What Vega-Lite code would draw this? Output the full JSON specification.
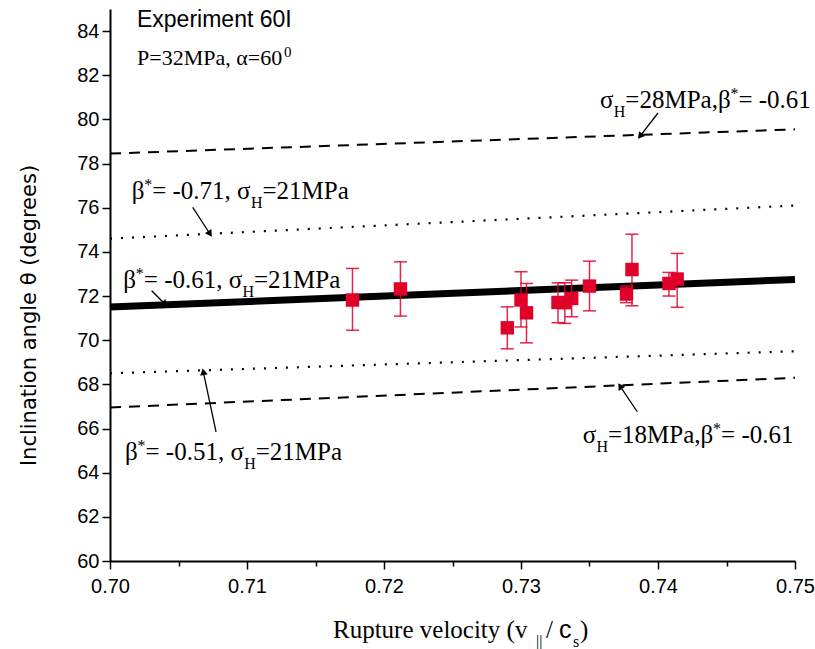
{
  "$schema": "https://vega.github.io/schema/vega-lite/v6.json",
  "width": 685,
  "height": 552,
  "autosize": {"type": "none"},
  "padding": {"left": 110, "top": 9, "right": 20, "bottom": 88},
  "background": "white",
  "config": {"view": {"stroke": null}},
  "datasets": {
    "lines": [
      {"label": "s28", "x": 0.70, "y": 78.45}, {"label": "s28", "x": 0.75, "y": 79.55},
      {"label": "b71", "x": 0.70, "y": 74.6}, {"label": "b71", "x": 0.75, "y": 76.1},
      {"label": "b61", "x": 0.70, "y": 71.5}, {"label": "b61", "x": 0.75, "y": 72.75},
      {"label": "b51", "x": 0.70, "y": 68.5}, {"label": "b51", "x": 0.75, "y": 69.5},
      {"label": "s18", "x": 0.70, "y": 66.95}, {"label": "s18", "x": 0.75, "y": 68.3}
    ],
    "pts": [
      {"x": 0.7177, "y": 71.82, "lo": 70.45, "hi": 73.25},
      {"x": 0.7212, "y": 72.32, "lo": 71.09, "hi": 73.55},
      {"x": 0.7290, "y": 70.56, "lo": 69.61, "hi": 71.51},
      {"x": 0.7300, "y": 71.82, "lo": 70.60, "hi": 73.10},
      {"x": 0.7304, "y": 71.24, "lo": 69.88, "hi": 72.57},
      {"x": 0.7327, "y": 71.71, "lo": 70.79, "hi": 72.60},
      {"x": 0.7332, "y": 71.70, "lo": 70.76, "hi": 72.60},
      {"x": 0.7337, "y": 71.89, "lo": 71.06, "hi": 72.72},
      {"x": 0.7350, "y": 72.45, "lo": 71.33, "hi": 73.58},
      {"x": 0.7377, "y": 72.09, "lo": 71.70, "hi": 72.45},
      {"x": 0.7381, "y": 73.20, "lo": 71.56, "hi": 74.80},
      {"x": 0.7408, "y": 72.57, "lo": 72.00, "hi": 73.07},
      {"x": 0.7414, "y": 72.77, "lo": 71.49, "hi": 73.93}
    ],
    "arrows": [
      {"id": 1, "x": 0.7400, "y": 80.29, "x2": 0.73869, "y2": 79.24},
      {"id": 2, "x": 0.70604, "y": 76.02, "x2": 0.70730, "y2": 74.81},
      {"id": 3, "x": 0.70304, "y": 72.24, "x2": 0.70401, "y2": 71.64},
      {"id": 4, "x": 0.70774, "y": 65.85, "x2": 0.70681, "y2": 68.57},
      {"id": 5, "x": 0.73849, "y": 66.76, "x2": 0.73723, "y2": 67.92}
    ],
    "texts": [
      {"kind": "lab", "x": 0.735766, "y": 80.51, "t": "σ"},
      {"kind": "sub", "x": 0.736766, "y": 80.10, "t": "H"},
      {"kind": "lab", "x": 0.737613, "y": 80.51, "t": "=28MPa,β"},
      {"kind": "sup", "x": 0.745285, "y": 80.93, "t": "*"},
      {"kind": "lab", "x": 0.745869, "y": 80.51, "t": "= -0.61"},

      {"kind": "lab", "x": 0.701584, "y": 76.39, "t": "β"},
      {"kind": "sup", "x": 0.702496, "y": 76.81, "t": "*"},
      {"kind": "lab", "x": 0.703080, "y": 76.39, "t": "= -0.71, σ"},
      {"kind": "sub", "x": 0.710285, "y": 75.98, "t": "H"},
      {"kind": "lab", "x": 0.711124, "y": 76.39, "t": "=21MPa"},

      {"kind": "lab", "x": 0.700971, "y": 72.35, "t": "β"},
      {"kind": "sup", "x": 0.701883, "y": 72.77, "t": "*"},
      {"kind": "lab", "x": 0.702467, "y": 72.35, "t": "= -0.61, σ"},
      {"kind": "sub", "x": 0.709672, "y": 71.94, "t": "H"},
      {"kind": "lab", "x": 0.710511, "y": 72.35, "t": "=21MPa"},

      {"kind": "lab", "x": 0.701095, "y": 64.57, "t": "β"},
      {"kind": "sup", "x": 0.702007, "y": 64.99, "t": "*"},
      {"kind": "lab", "x": 0.702591, "y": 64.57, "t": "= -0.51, σ"},
      {"kind": "sub", "x": 0.709796, "y": 64.16, "t": "H"},
      {"kind": "lab", "x": 0.710635, "y": 64.57, "t": "=21MPa"},

      {"kind": "lab", "x": 0.734504, "y": 65.33, "t": "σ"},
      {"kind": "sub", "x": 0.735504, "y": 64.92, "t": "H"},
      {"kind": "lab", "x": 0.736350, "y": 65.33, "t": "=18MPa,β"},
      {"kind": "sup", "x": 0.744022, "y": 65.75, "t": "*"},
      {"kind": "lab", "x": 0.744606, "y": 65.33, "t": "= -0.61"},

      {"kind": "p", "x": 0.70197, "y": 82.46, "t": "P=32MPa, α=60"},
      {"kind": "psup", "x": 0.71270, "y": 82.84, "t": "0"},
      {"kind": "sans", "x": 0.70197, "y": 84.18, "t": "Experiment 60I"},

      {"kind": "xt", "x": 0.716277, "y": 56.51, "t": "Rupture velocity (v"},
      {"kind": "sub", "x": 0.731095, "y": 56.12, "t": "||"},
      {"kind": "xt", "x": 0.731825, "y": 56.51, "t": "/"},
      {"kind": "xtsans", "x": 0.732774, "y": 56.51, "t": "c"},
      {"kind": "sub", "x": 0.733796, "y": 56.12, "t": "s"},
      {"kind": "xt", "x": 0.734307, "y": 56.51, "t": ")"}
    ]
  },
  "layer": [
    {
      "data": {"name": "lines"},
      "transform": [{"filter": "datum.label === 's28' || datum.label === 's18'"}],
      "mark": {"type": "line", "color": "black", "strokeWidth": 2, "strokeDash": [11, 8], "clip": true},
      "encoding": {
        "x": {"field": "x", "type": "quantitative",
          "scale": {"domain": [0.70, 0.75], "nice": false, "zero": false},
          "axis": {
            "values": [0.70, 0.705, 0.71, 0.715, 0.72, 0.725, 0.73, 0.735, 0.74, 0.745, 0.75],
            "labelExpr": "round(datum.value*1000) % 10 === 0 ? format(datum.value, '.2f') : ''",
            "title": null, "grid": false,
            "domainColor": "black", "domainWidth": 2,
            "tickColor": "black", "tickWidth": 1.5,
            "tickSize": {"condition": {"test": "round(datum.value*1000) % 10 !== 0", "value": 5}, "value": 8},
            "labelFont": "Liberation Sans Narrow, Liberation Sans", "labelFontSize": 20, "labelColor": "black",
            "labelPadding": 7, "labelFlush": false, "labelOverlap": false
          }},
        "y": {"field": "y", "type": "quantitative",
          "scale": {"domain": [60, 85], "nice": false, "zero": false},
          "axis": {
            "values": [60, 61, 62, 63, 64, 65, 66, 67, 68, 69, 70, 71, 72, 73, 74, 75, 76, 77, 78, 79, 80, 81, 82, 83, 84, 85],
            "labelExpr": "datum.value % 2 === 0 ? datum.label : ''",
            "title": "Inclination angle θ (degrees)",
            "titleFont": "DejaVu Sans", "titleFontSize": 21, "titleFontWeight": "normal", "titleColor": "black",
            "titleX": -81, "titleY": 306, "titleAngle": -90, "titleAlign": "center", "titleBaseline": "middle",
            "grid": false,
            "domainColor": "black", "domainWidth": 2,
            "tickColor": "black", "tickWidth": 1.5,
            "tickSize": {"condition": {"test": "datum.value % 2 === 1", "value": 5}, "value": 8},
            "labelFont": "Liberation Sans Narrow, Liberation Sans", "labelFontSize": 20, "labelColor": "black",
            "labelPadding": 3, "labelFlush": false, "labelOverlap": false
          }},
        "detail": {"field": "label"}
      }
    },
    {
      "data": {"name": "lines"},
      "transform": [{"filter": "datum.label === 'b71' || datum.label === 'b51'"}],
      "mark": {"type": "line", "color": "black", "strokeWidth": 2.2, "strokeDash": [2, 9], "strokeCap": "butt"},
      "encoding": {
        "x": {"field": "x", "type": "quantitative"},
        "y": {"field": "y", "type": "quantitative"},
        "detail": {"field": "label"}
      }
    },
    {
      "data": {"name": "lines"},
      "transform": [{"filter": "datum.label === 'b61'"}],
      "mark": {"type": "line", "color": "black", "strokeWidth": 7},
      "encoding": {
        "x": {"field": "x", "type": "quantitative"},
        "y": {"field": "y", "type": "quantitative"}
      }
    },
    {
      "data": {"name": "pts"},
      "mark": {"type": "rule", "color": "#e0002a", "strokeWidth": 1.5, "opacity": 0.85},
      "encoding": {
        "x": {"field": "x", "type": "quantitative"},
        "y": {"field": "lo", "type": "quantitative"},
        "y2": {"field": "hi"}
      }
    },
    {
      "data": {"name": "pts"},
      "mark": {"type": "tick", "orient": "horizontal", "color": "#e0002a", "size": 13, "thickness": 1.5, "opacity": 0.85},
      "encoding": {
        "x": {"field": "x", "type": "quantitative"},
        "y": {"field": "lo", "type": "quantitative"}
      }
    },
    {
      "data": {"name": "pts"},
      "mark": {"type": "tick", "orient": "horizontal", "color": "#e0002a", "size": 13, "thickness": 1.5, "opacity": 0.85},
      "encoding": {
        "x": {"field": "x", "type": "quantitative"},
        "y": {"field": "hi", "type": "quantitative"}
      }
    },
    {
      "data": {"name": "pts"},
      "mark": {"type": "point", "shape": "square", "filled": true, "color": "#e0002a", "size": 180, "opacity": 1},
      "encoding": {
        "x": {"field": "x", "type": "quantitative"},
        "y": {"field": "y", "type": "quantitative"}
      }
    },
    {
      "data": {"name": "arrows"},
      "mark": {"type": "rule", "color": "black", "strokeWidth": 1.3},
      "encoding": {
        "x": {"field": "x", "type": "quantitative"},
        "y": {"field": "y", "type": "quantitative"},
        "x2": {"field": "x2"},
        "y2": {"field": "y2"}
      }
    },
    {
      "data": {"name": "arrows"},
      "transform": [{"filter": "datum.id === 1"}],
      "mark": {"type": "point", "shape": "triangle-up", "filled": true, "color": "black", "size": 60, "angle": 218, "opacity": 1},
      "encoding": {"x": {"field": "x2", "type": "quantitative"}, "y": {"field": "y2", "type": "quantitative"}}
    },
    {
      "data": {"name": "arrows"},
      "transform": [{"filter": "datum.id === 2"}],
      "mark": {"type": "point", "shape": "triangle-up", "filled": true, "color": "black", "size": 60, "angle": 147, "opacity": 1},
      "encoding": {"x": {"field": "x2", "type": "quantitative"}, "y": {"field": "y2", "type": "quantitative"}}
    },
    {
      "data": {"name": "arrows"},
      "transform": [{"filter": "datum.id === 3"}],
      "mark": {"type": "point", "shape": "triangle-up", "filled": true, "color": "black", "size": 60, "angle": 135, "opacity": 1},
      "encoding": {"x": {"field": "x2", "type": "quantitative"}, "y": {"field": "y2", "type": "quantitative"}}
    },
    {
      "data": {"name": "arrows"},
      "transform": [{"filter": "datum.id === 4"}],
      "mark": {"type": "point", "shape": "triangle-up", "filled": true, "color": "black", "size": 60, "angle": -12, "opacity": 1},
      "encoding": {"x": {"field": "x2", "type": "quantitative"}, "y": {"field": "y2", "type": "quantitative"}}
    },
    {
      "data": {"name": "arrows"},
      "transform": [{"filter": "datum.id === 5"}],
      "mark": {"type": "point", "shape": "triangle-up", "filled": true, "color": "black", "size": 60, "angle": -34, "opacity": 1},
      "encoding": {"x": {"field": "x2", "type": "quantitative"}, "y": {"field": "y2", "type": "quantitative"}}
    },
    {
      "data": {"name": "texts"},
      "transform": [{"filter": "datum.kind === 'lab' || datum.kind === 'xt'"}],
      "mark": {"type": "text", "font": "Liberation Serif", "fontSize": 25, "align": "left", "baseline": "alphabetic", "color": "black", "clip": false},
      "encoding": {"x": {"field": "x", "type": "quantitative"}, "y": {"field": "y", "type": "quantitative"}, "text": {"field": "t"}}
    },
    {
      "data": {"name": "texts"},
      "transform": [{"filter": "datum.kind === 'p'"}],
      "mark": {"type": "text", "font": "Liberation Serif", "fontSize": 22, "align": "left", "baseline": "alphabetic", "color": "black", "clip": false},
      "encoding": {"x": {"field": "x", "type": "quantitative"}, "y": {"field": "y", "type": "quantitative"}, "text": {"field": "t"}}
    },
    {
      "data": {"name": "texts"},
      "transform": [{"filter": "datum.kind === 'sub' || datum.kind === 'sup'"}],
      "mark": {"type": "text", "font": "Liberation Serif", "fontSize": 16, "align": "left", "baseline": "alphabetic", "color": "black", "clip": false},
      "encoding": {"x": {"field": "x", "type": "quantitative"}, "y": {"field": "y", "type": "quantitative"}, "text": {"field": "t"}}
    },
    {
      "data": {"name": "texts"},
      "transform": [{"filter": "datum.kind === 'psup'"}],
      "mark": {"type": "text", "font": "Liberation Serif", "fontSize": 15, "align": "left", "baseline": "alphabetic", "color": "black", "clip": false},
      "encoding": {"x": {"field": "x", "type": "quantitative"}, "y": {"field": "y", "type": "quantitative"}, "text": {"field": "t"}}
    },
    {
      "data": {"name": "texts"},
      "transform": [{"filter": "datum.kind === 'sans'"}],
      "mark": {"type": "text", "font": "Liberation Sans", "fontSize": 23, "align": "left", "baseline": "alphabetic", "color": "black", "clip": false},
      "encoding": {"x": {"field": "x", "type": "quantitative"}, "y": {"field": "y", "type": "quantitative"}, "text": {"field": "t"}}
    },
    {
      "data": {"name": "texts"},
      "transform": [{"filter": "datum.kind === 'xtsans'"}],
      "mark": {"type": "text", "font": "Liberation Sans", "fontSize": 25, "align": "left", "baseline": "alphabetic", "color": "black", "clip": false},
      "encoding": {"x": {"field": "x", "type": "quantitative"}, "y": {"field": "y", "type": "quantitative"}, "text": {"field": "t"}}
    }
  ]
}
